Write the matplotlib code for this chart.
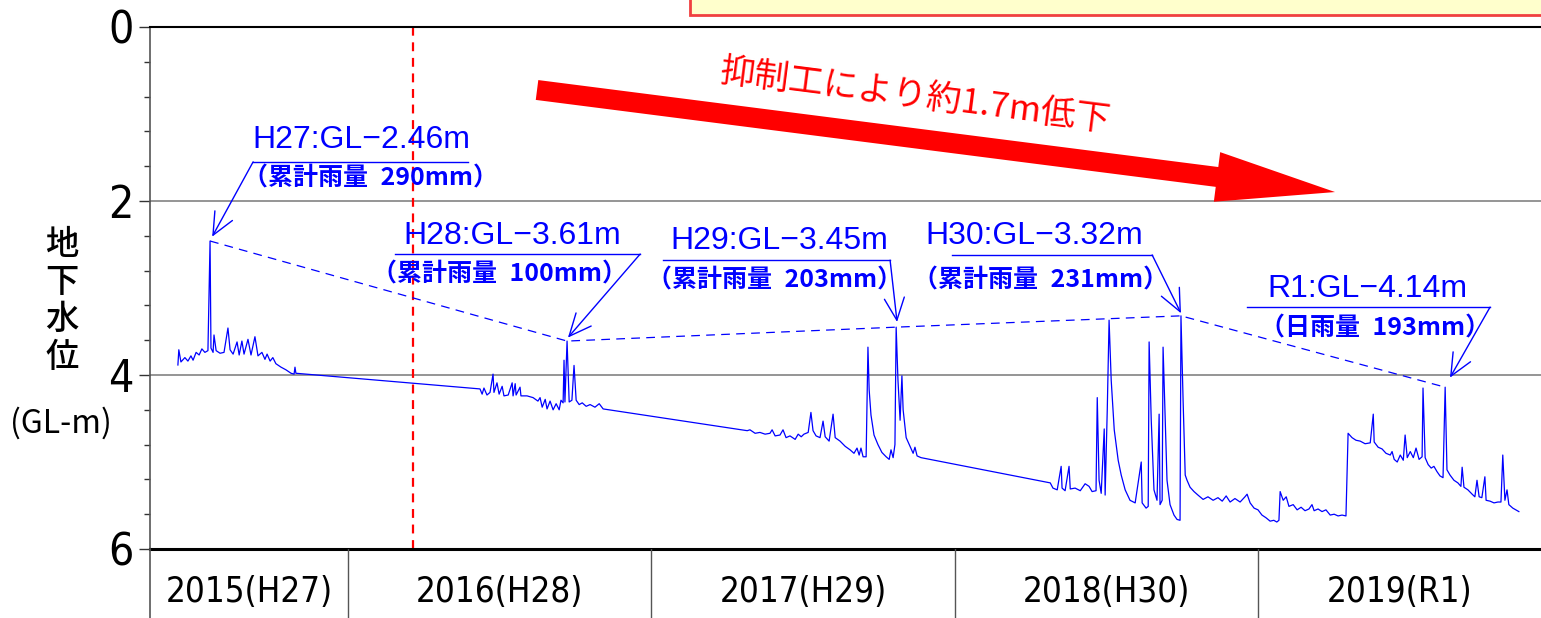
import numpy as np
import matplotlib
matplotlib.use('Agg')
import matplotlib.pyplot as plt
from matplotlib import font_manager as fm
from matplotlib.font_manager import FontProperties
from matplotlib.patches import Rectangle, FancyArrowPatch
from matplotlib.ticker import MultipleLocator

# ---------------- data (decimal year, groundwater level GL-m) ----------------
t_2015 = [2015.439, 2015.442, 2015.449, 2015.462, 2015.472, 2015.482, 2015.489, 2015.499,
          2015.509, 2015.518, 2015.528, 2015.538, 2015.545, 2015.548, 2015.555, 2015.558,
          2015.565, 2015.578, 2015.591, 2015.604, 2015.611, 2015.621, 2015.634, 2015.641,
          2015.650, 2015.657, 2015.670, 2015.680, 2015.693, 2015.703, 2015.716, 2015.726,
          2015.733, 2015.743, 2015.752, 2015.762, 2015.779, 2015.795, 2015.812, 2015.822,
          2015.825, 2015.828]
v_2015 = [3.885, 3.71, 3.85, 3.80, 3.84, 3.78, 3.83, 3.74,
          3.77, 3.70, 3.74, 3.72, 2.46, 3.69, 3.74, 3.54,
          3.72, 3.75, 3.74, 3.46, 3.71, 3.76, 3.62, 3.77,
          3.61, 3.76, 3.59, 3.77, 3.56, 3.78, 3.74, 3.82,
          3.76, 3.84, 3.80, 3.87, 3.91, 3.94, 3.98, 3.99,
          3.91, 3.98]

t_2016 = [2016.435, 2016.442, 2016.448, 2016.458, 2016.468, 2016.478, 2016.481, 2016.491,
          2016.498, 2016.508, 2016.514, 2016.528, 2016.541, 2016.544, 2016.551, 2016.554,
          2016.567, 2016.570, 2016.590, 2016.610, 2016.626, 2016.633, 2016.640, 2016.650,
          2016.656, 2016.666, 2016.676, 2016.686, 2016.696, 2016.702, 2016.709, 2016.712,
          2016.715, 2016.722, 2016.729, 2016.738, 2016.745, 2016.752, 2016.762, 2016.772,
          2016.785, 2016.798, 2016.814, 2016.828, 2016.841]
v_2016 = [4.16, 4.22, 4.15, 4.23, 4.20, 3.99, 4.20, 4.09,
          4.22, 4.13, 4.24, 4.23, 4.09, 4.24, 4.10, 4.23,
          4.14, 4.24, 4.24, 4.26, 4.30, 4.26, 4.37, 4.28,
          4.39, 4.30, 4.40, 4.33, 4.40, 4.29, 4.32, 3.83,
          4.31, 3.61, 4.31, 4.29, 3.89, 4.29, 4.34, 4.32,
          4.36, 4.34, 4.37, 4.33, 4.39]

t_2017 = [2017.316, 2017.325, 2017.342, 2017.358, 2017.375, 2017.391, 2017.398, 2017.408,
          2017.424, 2017.434, 2017.444, 2017.457, 2017.474, 2017.484, 2017.494, 2017.503,
          2017.517, 2017.526, 2017.533, 2017.543, 2017.556, 2017.566, 2017.573, 2017.586,
          2017.599, 2017.606, 2017.622, 2017.639, 2017.655, 2017.668, 2017.678, 2017.685,
          2017.691, 2017.698, 2017.708, 2017.714, 2017.718, 2017.724, 2017.734, 2017.747,
          2017.760, 2017.774, 2017.784, 2017.790, 2017.797, 2017.803, 2017.807, 2017.813,
          2017.820, 2017.826, 2017.830, 2017.840, 2017.853, 2017.863, 2017.869, 2017.876,
          2017.889]
v_2017 = [4.64, 4.63, 4.67, 4.66, 4.68, 4.67, 4.63, 4.70,
          4.69, 4.63, 4.72, 4.70, 4.74, 4.68, 4.71, 4.68,
          4.66, 4.43, 4.64, 4.70, 4.72, 4.53, 4.71, 4.76,
          4.45, 4.72, 4.76, 4.82, 4.86, 4.90, 4.84, 4.92,
          4.84, 4.94, 4.94, 3.68, 4.17, 4.46, 4.69, 4.80,
          4.89, 4.94, 4.97, 4.86, 4.95, 4.80, 3.45, 4.06,
          4.52, 4.01, 4.40, 4.72, 4.82, 4.90, 4.83, 4.93,
          4.95]

t_2018 = [2018.315, 2018.324, 2018.338, 2018.351, 2018.354, 2018.364, 2018.377, 2018.381,
          2018.397, 2018.414, 2018.430, 2018.443, 2018.453, 2018.466, 2018.470, 2018.476,
          2018.483, 2018.493, 2018.496, 2018.503, 2018.509, 2018.516, 2018.526, 2018.539,
          2018.549, 2018.562, 2018.578, 2018.595, 2018.615, 2018.618, 2018.631, 2018.638,
          2018.641, 2018.648, 2018.657, 2018.667, 2018.674, 2018.677, 2018.684, 2018.687,
          2018.694, 2018.700, 2018.710, 2018.723, 2018.733, 2018.743, 2018.746, 2018.753,
          2018.760, 2018.766, 2018.776, 2018.789, 2018.802, 2018.819, 2018.835, 2018.852,
          2018.868, 2018.882, 2018.895, 2018.908, 2018.924, 2018.941, 2018.957, 2018.964,
          2018.974, 2018.987]
v_2018 = [5.24, 5.30, 5.32, 5.05, 5.30, 5.33, 5.05, 5.31,
          5.30, 5.33, 5.25, 5.28, 5.34, 5.33, 4.26, 5.21,
          5.36, 4.62, 5.38, 4.40, 3.37, 4.06, 4.63, 4.98,
          5.15, 5.32, 5.44, 5.47, 5.00, 5.47, 5.53, 5.51,
          3.62, 4.52, 5.32, 5.44, 4.45, 5.49, 5.44, 3.68,
          4.52, 5.21, 5.49, 5.61, 5.66, 5.67, 3.32, 4.29,
          5.15, 5.21, 5.29, 5.34, 5.38, 5.43, 5.40, 5.44,
          5.41, 5.45, 5.39, 5.46, 5.42, 5.46, 5.40, 5.37,
          5.47, 5.53]

t_2019 = [2019.000, 2019.013, 2019.026, 2019.040, 2019.052, 2019.062, 2019.069, 2019.073,
          2019.083, 2019.093, 2019.102, 2019.116, 2019.129, 2019.142, 2019.155, 2019.168,
          2019.178, 2019.185, 2019.198, 2019.211, 2019.224, 2019.238, 2019.251, 2019.264,
          2019.277, 2019.290, 2019.297, 2019.310, 2019.323, 2019.337, 2019.353, 2019.370,
          2019.380, 2019.383, 2019.396, 2019.409, 2019.422, 2019.436, 2019.442, 2019.449,
          2019.459, 2019.469, 2019.479, 2019.485, 2019.492, 2019.502, 2019.512, 2019.521,
          2019.531, 2019.541, 2019.544, 2019.551, 2019.561, 2019.571, 2019.580, 2019.590,
          2019.600, 2019.610, 2019.617, 2019.623, 2019.633, 2019.646, 2019.659, 2019.669,
          2019.673, 2019.679, 2019.692, 2019.706, 2019.715, 2019.722, 2019.729, 2019.738,
          2019.748, 2019.752, 2019.765, 2019.778, 2019.791, 2019.801, 2019.807, 2019.814,
          2019.821, 2019.827, 2019.840, 2019.850, 2019.860]
v_2019 = [5.55, 5.61, 5.64, 5.68, 5.67, 5.69, 5.67, 5.34,
          5.44, 5.40, 5.51, 5.49, 5.55, 5.52, 5.56, 5.54,
          5.49, 5.56, 5.54, 5.57, 5.55, 5.61, 5.60, 5.62,
          5.61, 5.62, 4.67, 4.72, 4.75, 4.76, 4.79, 4.78,
          4.45, 4.77, 4.83, 4.85, 4.90, 4.92, 4.88, 4.97,
          5.00, 4.92, 4.98, 4.69, 4.95, 4.88, 4.95, 4.84,
          4.97, 4.94, 4.15, 4.95, 5.03, 5.07, 5.05, 5.11,
          5.16, 5.18, 4.14, 5.09, 5.15, 5.21, 5.24, 5.28,
          5.06, 5.29, 5.32, 5.37, 5.40, 5.21, 5.40, 5.41,
          5.17, 5.44, 5.45, 5.47, 5.46, 5.46, 4.92, 5.44,
          5.32, 5.49, 5.53, 5.55, 5.57]

# annual peak levels
peak_t = [2015.545, 2016.722, 2017.807, 2018.746, 2019.617]
peak_v = [2.46, 3.61, 3.45, 3.32, 4.14]
peak_titles = ['H27:GL\u22122.46m', 'H28:GL\u22123.61m', 'H29:GL\u22123.45m',
               'H30:GL\u22123.32m', 'R1:GL\u22124.14m']
peak_rain = ['（累計雨量\u2002290mm）', '（累計雨量\u2002100mm）', '（累計雨量\u2002203mm）',
             '（累計雨量\u2002231mm）', '（日雨量\u2002193mm）']

year_starts = [2015, 2016, 2017, 2018, 2019]
year_labels = ['2015(H27)', '2016(H28)', '2017(H29)', '2018(H30)', '2019(R1)']
y_ticks = [0, 2, 4, 6]
works_start = 2016.214
trend_text = '抑制工により約1.7m低下'

# ---------------- fonts ----------------
COND = ('ultra-condensed', 'extra-condensed', 'condensed', 'semi-condensed')
best = None
best_rank = 99
for f in fm.fontManager.ttflist:
    nm = f.name.lower()
    st = str(f.stretch)
    is_narrow = ('narrow' in nm or 'condensed' in nm or st in COND)
    if not is_narrow or 'mono' in nm or 'serif' in nm.replace('sans', ''):
        continue
    if str(f.style) != 'normal' or f.weight not in (400, 'normal', 'regular', 500, 'medium'):
        continue
    rank = COND.index(st) if st in COND else 2
    if rank < best_rank:
        best_rank, best = rank, f.fname
if best:
    NARROW_FP = lambda size: FontProperties(fname=best, size=size)
    narrow_found = True
else:
    NARROW_FP = lambda size: FontProperties(family='DejaVu Sans', size=size)
    narrow_found = False

CJK = ['Noto Sans CJK JP', 'DejaVu Sans']
LAT = ['Liberation Sans', 'DejaVu Sans']

BLUE = '#0000FF'
W, H = 1541, 618
fig = plt.figure(figsize=(W / 100, H / 100), dpi=100)

# yellow box at top right
fig.patches.append(Rectangle((690 / W, 1 - 15 / H), 0.6, 0.1, transform=fig.transFigure,
                             facecolor='#FFFFCC', edgecolor='#F04040', lw=2, zorder=0))

x0, x1 = 2015.347, 2019.933
ax = fig.add_axes([150 / W, 69 / H, 1391 / W, 522 / H])
ax.set_xlim(x0, x1)
ax.set_ylim(6, 0)

t_all = t_2015 + t_2016 + t_2017 + t_2018 + t_2019
v_all = v_2015 + v_2016 + v_2017 + v_2018 + v_2019
ax.plot(t_all, v_all, color=BLUE, lw=0.9, zorder=3)
ax.plot(peak_t, peak_v, color=BLUE, lw=0.9, dashes=(7, 5), zorder=3)

for g in (2, 4):
    ax.axhline(g, color='#8C8C8C', lw=1.3, zorder=1)
ax.axvline(works_start, color='#FF0000', lw=1.6, dashes=(4, 3), zorder=2)

ax.set_xticks([])
ax.set_yticks(y_ticks)
ax.yaxis.set_minor_locator(MultipleLocator(0.4))
ax.tick_params(axis='y', which='major', length=8, width=1, color='#333333', pad=4)
ax.tick_params(axis='y', which='minor', length=4, width=1, color='#333333')
ax.set_yticklabels([str(v) for v in y_ticks])
for lab in ax.get_yticklabels():
    lab.set_fontproperties(NARROW_FP(32 if narrow_found else 27))
ax.spines['right'].set_visible(False)
ax.spines['top'].set_color('black')
ax.spines['top'].set_linewidth(1.5)
ax.spines['bottom'].set_color('black')
ax.spines['bottom'].set_linewidth(2.2)
ax.spines['left'].set_color('#555555')
ax.spines['left'].set_linewidth(1.2)

# y label
fig.text(62 / W, 1 - 301 / H, '地\n下\n水\n位', ha='center', va='center', fontsize=24,
         family=CJK, weight='medium', linespacing=1.1)
fig.text(61 / W, 1 - 423 / H, '(GL-m)', ha='center', va='center', fontsize=23, family=CJK)

# annotations
title_pos = [(2015.683, 1.30), (2016.181, 2.40), (2017.062, 2.46), (2017.902, 2.40), (2019.030, 3.01)]
sub_pos = [(2015.655, 1.74), (2016.079, 2.85), (2016.986, 2.91), (2017.863, 2.91), (2019.007, 3.47)]
underline = [(2015.687, 2016.396, 1.55), (2016.155, 2016.963, 2.61), (2017.039, 2017.787, 2.68),
             (2017.991, 2018.651, 2.62), (2018.964, 2019.765, 3.22)]
arrow_from_left = [True, False, False, False, False]
tips = [(2015.552, 2.41), (2016.725, 3.57), (2017.810, 3.39), (2018.746, 3.29), (2019.633, 4.03)]

for i in range(5):
    ax.text(*title_pos[i], peak_titles[i], color=BLUE, fontsize=23, family=LAT,
            ha='left', va='center', zorder=5)
    ax.text(*sub_pos[i], peak_rain[i], color=BLUE, fontsize=18, family=CJK, weight='bold',
            ha='left', va='center', zorder=5)
    ua, ub, uy = underline[i]
    ax.plot([ua, ub], [uy, uy], color=BLUE, lw=1.0, zorder=5)
    start = (ua, uy) if arrow_from_left[i] else (ub, uy)
    arr = FancyArrowPatch(start, tips[i], arrowstyle='->,head_length=0.8,head_width=0.36',
                          mutation_scale=20, color=BLUE, lw=1.0, shrinkA=0, shrinkB=0,
                          zorder=5)
    ax.add_patch(arr)

# big red trend arrow
big = FancyArrowPatch((2016.623, 0.724), (2019.254, 1.897),
                      arrowstyle='simple,head_length=1.19,head_width=0.50,tail_width=0.20',
                      mutation_scale=72, color='#FF0000', lw=0, shrinkA=0, shrinkB=0, zorder=4)
ax.add_patch(big)
ax.text(2017.868, 0.80, trend_text, color='#FF0000', fontsize=25, family=CJK,
        rotation=-7.3, rotation_mode='anchor', ha='center', va='center', zorder=5)

# year band
ax2 = fig.add_axes([150 / W, 0, 1391 / W, 69 / H])
ax2.set_xlim(x0, x1)
ax2.set_ylim(0, 1)
ax2.set_xticks([])
ax2.set_yticks([])
for s in ('top', 'right', 'bottom'):
    ax2.spines[s].set_visible(False)
ax2.spines['left'].set_color('#555555')
ax2.spines['left'].set_linewidth(1.2)
ax2.patch.set_alpha(0)
for ys in year_starts[1:]:
    ax2.axvline(ys, color='#555555', lw=1.0)
for ys, lab in zip(year_starts, year_labels):
    a = max(ys, x0)
    b = min(ys + 1, x1)
    ax2.text((a + b) / 2, 0.37, lab, ha='center', va='center', color='black',
             fontproperties=NARROW_FP(25 if narrow_found else 21))

fig.savefig('out.png', dpi=100)
